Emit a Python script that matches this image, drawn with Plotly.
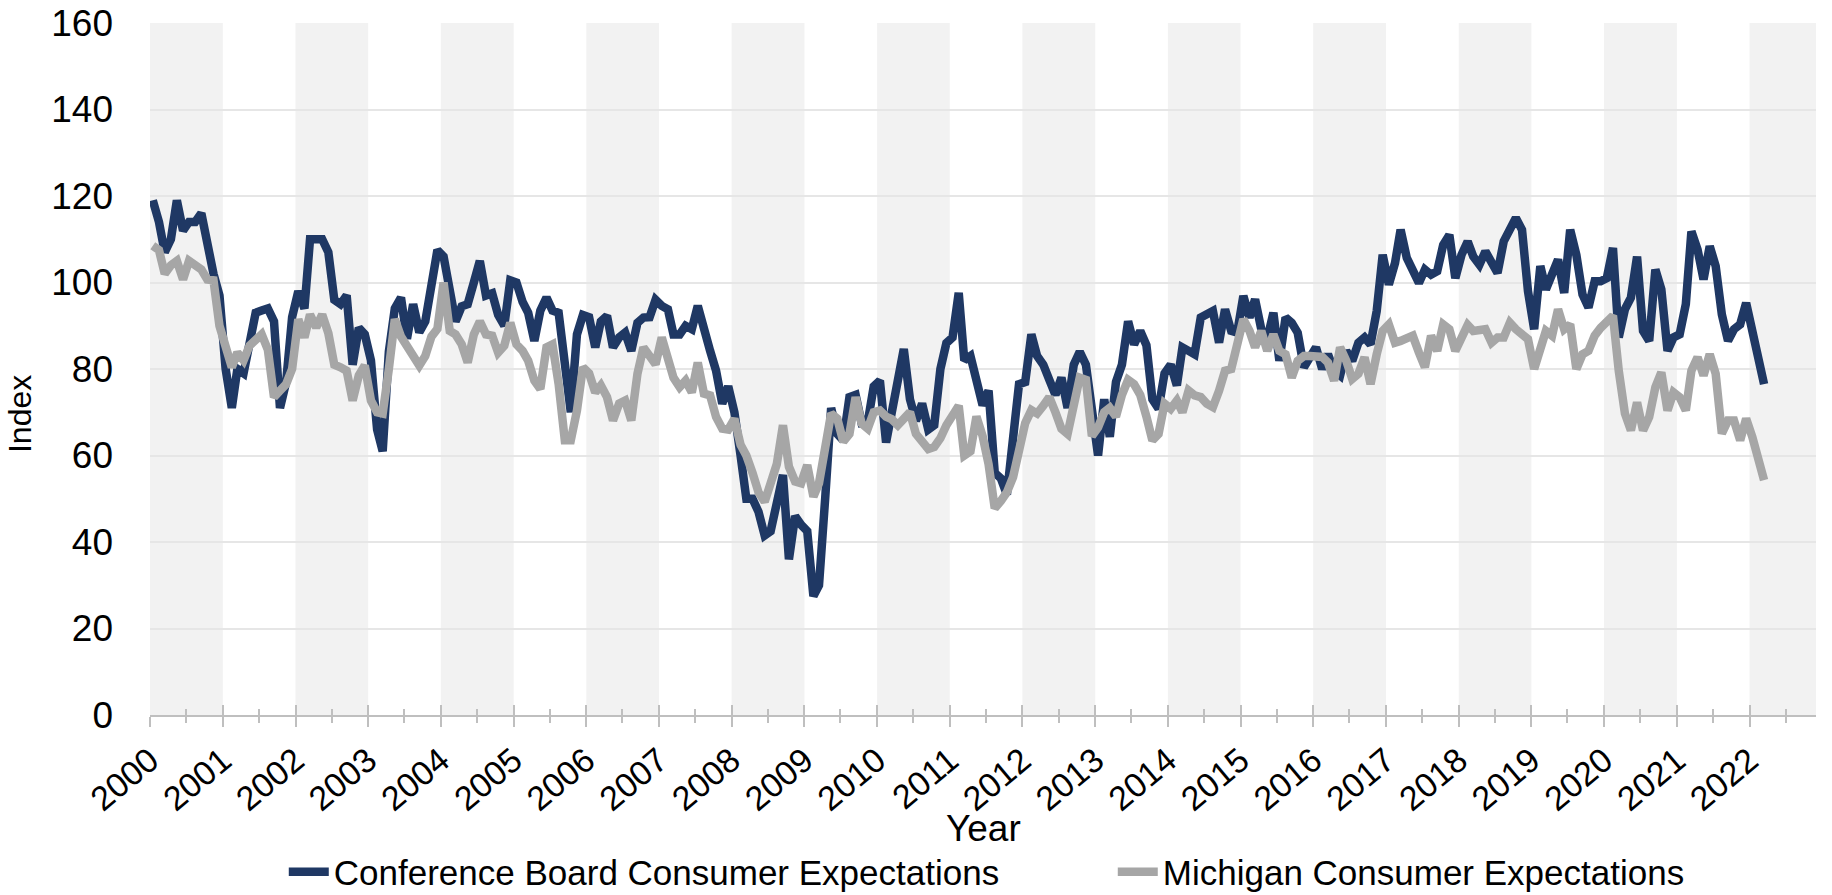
import plotly.graph_objects as go

# Monthly values, Jan 2000 .. Mar 2022
conference_board = [
    119, 114, 107, 110, 119, 112, 114, 114, 116, 108, 102, 97,
    80, 71, 80, 79, 87, 93, 93.5, 94, 91, 71, 77, 92,
    98, 94, 110, 110, 110, 107, 96, 95, 97, 81, 89.5, 88,
    82, 66, 61, 84, 94, 96.5, 87, 95, 88.5, 91, 99, 107.5,
    106, 97, 91, 94.5, 95, 100, 105, 97, 97.5, 92.5, 90, 100.5,
    100, 95.5, 93, 86.5, 93.5, 96.5, 93.5, 93, 81, 70, 88, 92.5,
    92, 85, 91, 92.3, 85, 87.3, 88.4, 84.2, 90.7, 91.9, 92, 96,
    94.6, 93.8, 88, 88, 90, 89.2, 94.6, 88.8, 84.2, 79.6, 72, 76,
    70, 60, 50, 50, 47, 41.5, 42.5, 49, 55.5, 36, 46, 44,
    42.5, 27.5, 30, 50, 71, 65, 63.5, 73.5, 74, 67.5, 67.7, 76,
    77.3, 63, 70, 77, 84.6, 73, 68, 72, 66, 67, 80, 86,
    87.3, 97.6, 82, 83, 77, 71.6, 75, 56, 54.7, 51, 64, 76.5,
    77, 88, 83, 81, 77.5, 74, 78, 71, 81, 84, 81, 72,
    60, 73, 64.3, 77, 81, 91, 85.7, 88.8, 85.5, 73, 70.8, 79,
    81, 76.2, 85, 84.2, 83.4, 91.9, 92.6, 93.4, 86.1, 93.8, 88.8, 88.4,
    96.9, 91.9, 96.1, 89.2, 86.9, 93, 81.9, 91.9, 90.7, 88.4, 80.4, 83,
    85, 80, 83.4, 79.6, 78.5, 84.2, 81.9, 86.1, 87.3, 85.7, 93.4, 106.4,
    99.5, 104.5, 112.2, 105.7, 102.6, 99.9, 103, 101.8, 102.6, 108.7, 111, 101,
    106.4, 109.5, 106, 104.1, 107.2, 104.1, 102.2, 109.5, 112.2, 114.9, 112.2, 98,
    89.2, 103.8, 98.4, 102.6, 105.3, 97.6, 112.2, 106.4, 97.2, 94.2, 100.3, 100.3,
    101, 108, 87.3, 93.8, 96.5, 106, 88.8, 86.5, 103, 98.4, 84.2, 87.3,
    88, 95, 111.8, 107.6, 100.7, 108.4, 103.8, 92.6, 86.5, 89.2, 90.3, 95.3,
    88.8, 80.4, 76.5,
]

michigan = [
    108.5, 107.5, 102, 104, 105, 100.7, 105, 104, 103, 100.7, 100.5, 90,
    84.2, 80.4, 83.8, 82, 85.4, 86.7, 88, 84.5, 73.5, 75, 76.5, 80,
    91.5, 87.3, 92.6, 89.6, 92.6, 88.3, 81, 80.4, 79.6, 72.7, 78.5, 80.8,
    72.7, 70, 69.7, 80, 91.5, 87.5, 85, 83, 80.8, 83, 87.5, 89.3,
    100, 88.8, 88, 85.7, 81.5, 88, 91, 88, 87.7, 83.8, 85.4, 90.7,
    85.7, 84.2, 81.9, 77.3, 75.4, 85, 85.7, 76.5, 63.5, 63.5, 70.4, 80.4,
    79, 74.6, 76.2, 73.5, 68.1, 72, 72.7, 68.1, 78.9, 85, 83, 81.1,
    87.3, 81.5, 78, 75.8, 77.3, 74.6, 81.5, 74.3, 73.9, 68.9, 66.2, 66,
    68.5, 62.5, 60, 56, 51.5, 49.3, 53.5, 58, 67, 57.4, 54, 53.6,
    57.8, 50.5, 53.6, 62.8, 69.7, 68.5, 63.2, 65, 73.5, 67.4, 66.2, 70,
    70.4, 69, 68.4, 67, 68.7, 70, 65, 63, 61.5, 62, 64, 67,
    69.5, 71.5, 60, 61, 69, 64.5, 58, 47.8, 49.5, 51.5, 55, 62,
    67.5, 70.5, 69.7, 71.5, 73.5, 70, 66.2, 65, 72, 78, 77.5, 64.5,
    66.5, 70, 71, 69, 74, 77.5, 76.5, 74, 69, 63.5, 65, 72,
    70.8, 72.7, 70, 75, 73.9, 73.5, 72, 71.2, 75, 79.6, 80, 85,
    91.5, 88.8, 85, 88.8, 84.2, 88, 84.2, 83.4, 78, 81.9, 83, 83,
    83, 82.8, 81.5, 77.3, 85, 81.9, 77.7, 78.9, 82.7, 76.5, 83.4, 88.8,
    90.3, 86.1, 86.5, 87, 87.7, 83.8, 80.4, 87.7, 84.2, 90.3, 89.2, 84.2,
    87, 90.2, 88.8, 88.8, 89.2, 86.1, 87.3, 87.3, 90.7, 89.2, 88, 86.9,
    80, 84.2, 88.8, 87.7, 93.8, 89.2, 90.3, 80, 83.4, 84.2, 87.7, 89.5,
    91, 92.3, 79.6, 69.7, 65.8, 72.3, 65.8, 68.9, 75.8, 79.2, 70.4, 74.6,
    73.5, 70.4, 79.6, 82.7, 78.5, 83.4, 78.9, 65.1, 68.1, 68.1, 63.5, 68.5,
    64.3, 58.9, 54.3,
]

start_year = 2000
months = [f"{start_year + m // 12}-{m % 12 + 1:02d}-15" for m in range(len(conference_board))]

series_names = ["Conference Board Consumer Expectations", "Michigan Consumer Expectations"]
shaded_years = list(range(2000, 2023, 2))
y_ticks = list(range(0, 161, 20))

BLUE = "#1f3864"
GREY = "#a6a6a6"
FONT = "Liberation Sans, Arial, sans-serif"
X_END = "2022-12-01"

fig = go.Figure()
fig.add_trace(go.Scatter(x=months, y=conference_board, mode="lines", name=series_names[0],
                         line=dict(color=BLUE, width=8.5)))
fig.add_trace(go.Scatter(x=months, y=michigan, mode="lines", name=series_names[1],
                         line=dict(color=GREY, width=8.5)))
# invisible trace so the overlay axis (inner tick halves) is drawn
fig.add_trace(go.Scatter(x=[months[0]], y=[0], xaxis="x2", mode="markers",
                         marker=dict(opacity=0), showlegend=False, hoverinfo="skip"))

for yr in shaded_years:
    x1 = f"{yr + 1}-01-01" if yr + 1 <= 2022 else X_END
    fig.add_shape(type="rect", xref="x", yref="paper", x0=f"{yr}-01-01", x1=x1,
                  y0=0, y1=1, fillcolor="#f2f2f2", line=dict(width=0), layer="below")

fig.update_layout(
    width=1832, height=895,
    margin=dict(l=150, r=16, t=23, b=180, autoexpand=False),
    paper_bgcolor="white", plot_bgcolor="white",
    font=dict(family=FONT, color="black", size=36),
    showlegend=True,
    legend=dict(orientation="h", x=0.0803, xanchor="left", y=-0.227, yanchor="middle",
                font=dict(size=35, family=FONT, color="black"), entrywidth=774,
                itemwidth=40, traceorder="normal"),
    xaxis=dict(type="date", range=["2000-01-01", X_END], dtick="M12", tick0="2000-01-01",
               tickformat="%Y", tickangle=-40, ticks="outside", ticklen=10, tickwidth=2,
               tickcolor="#bfbfbf", showline=True, linecolor="#bfbfbf", linewidth=2,
               showgrid=False, zeroline=False, tickfont=dict(size=34), automargin=False,
               minor=dict(dtick="M6", ticks="outside", ticklen=6, tickwidth=2, tickcolor="#bfbfbf")),
    xaxis2=dict(type="date", range=["2000-01-01", X_END], overlaying="x", anchor="y", side="bottom",
                dtick="M12", tick0="2000-01-01", ticks="inside", ticklen=10, tickwidth=2,
                tickcolor="#bfbfbf", showticklabels=False, showgrid=False, showline=False,
                zeroline=False,
                minor=dict(dtick="M6", ticks="inside", ticklen=6, tickwidth=2, tickcolor="#bfbfbf")),
    yaxis=dict(range=[0, 160], tickvals=y_ticks, showgrid=True, gridcolor="#e6e6e6", gridwidth=1.5,
               zeroline=False, showline=False, ticks="", tickfont=dict(size=37), automargin=False,
               ticklabelstandoff=36, ticklabeloverflow="allow"),
    annotations=[
        dict(text="Year", xref="paper", yref="paper", x=0.5, y=-0.164, xanchor="center",
             yanchor="middle", showarrow=False, font=dict(size=37)),
        dict(text="Index", xref="paper", yref="paper", x=-0.078, y=0.435, xanchor="center",
             yanchor="middle", textangle=-90, showarrow=False, font=dict(size=32)),
    ],
)

fig.write_html("out.html", config={"displayModeBar": False},
               post_script="document.body.style.margin='0';document.body.style.overflow='hidden';")
